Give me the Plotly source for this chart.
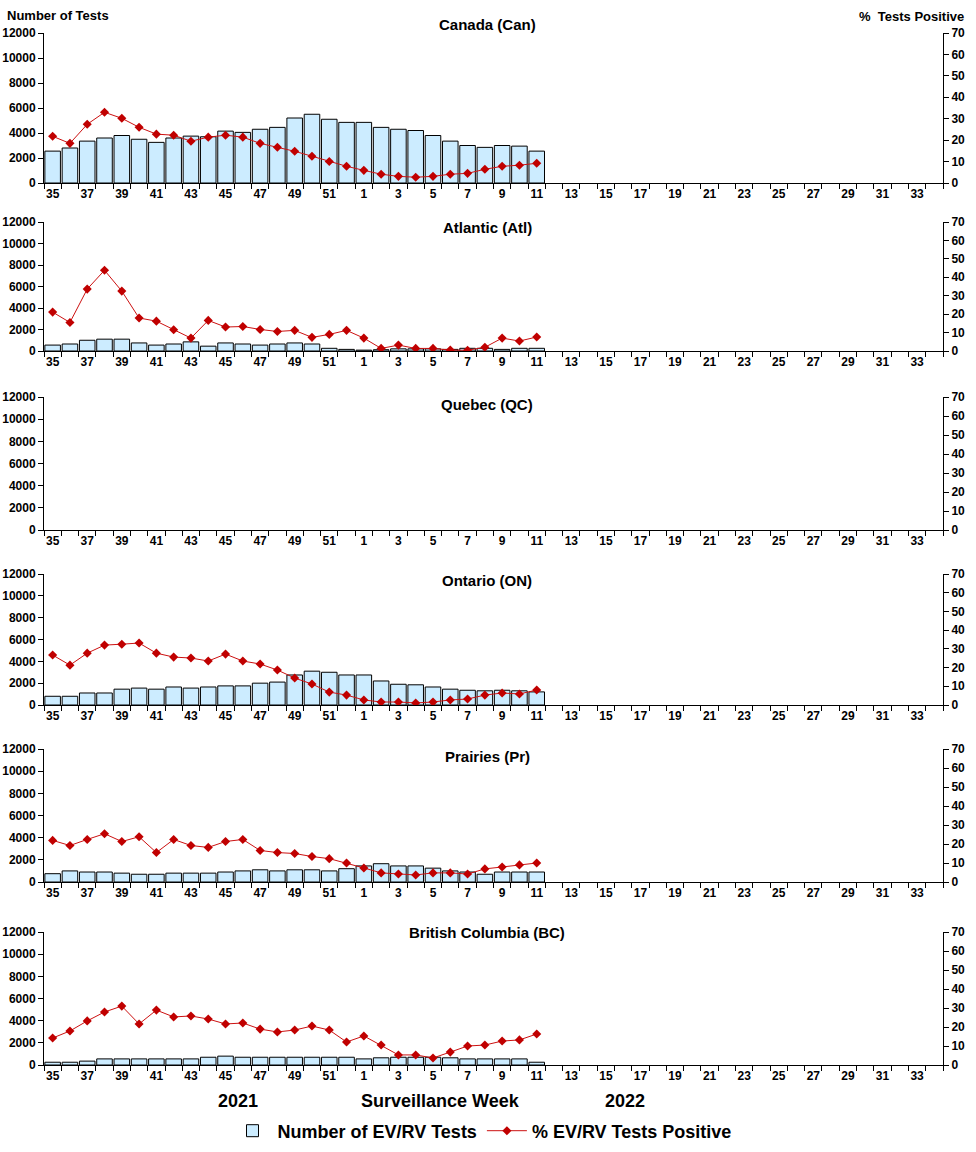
import plotly.graph_objects as go

weeks = [str(w) for w in list(range(35, 53)) + list(range(1, 35))]
week_labels = [w if i % 2 == 0 else "" for i, w in enumerate(weeks)]

regions = ["Canada (Can)", "Atlantic (Atl)", "Quebec (QC)", "Ontario (ON)", "Prairies (Pr)", "British Columbia (BC)"]

can_tests = [2550, 2800, 3350, 3600, 3800, 3500, 3250, 3600, 3750, 3700, 4150, 4050, 4300, 4450, 5200, 5500, 5100, 4850,
             4850, 4450, 4300, 4200, 3800, 3350, 3000, 2850, 3000, 2950, 2550]
can_pct = [21.8, 18.5, 27.4, 33.0, 30.2, 26.0, 22.8, 22.3, 19.5, 21.4, 22.3, 21.4, 18.5, 16.7, 14.8, 12.5, 10.0, 7.8,
           5.9, 4.1, 3.1, 2.7, 3.1, 4.1, 4.5, 6.4, 7.8, 8.3, 9.2]

atl_tests = [550, 650, 1000, 1100, 1100, 750, 550, 650, 850, 450, 750, 650, 550, 650, 750, 650, 250, 150,
             80, 120, 200, 200, 200, 150, 250, 250, 150, 250, 250]
atl_pct = [21.1, 15.5, 33.6, 43.8, 32.5, 17.9, 16.2, 11.5, 7.0, 16.6, 13.0, 13.3, 11.7, 10.6, 11.2, 7.4, 9.0, 11.2,
           7.0, 1.4, 3.2, 1.4, 1.4, 0.5, 0.4, 2.0, 7.0, 5.4, 7.6]

qc_tests = []
qc_pct = []

on_tests = [800, 800, 1100, 1100, 1450, 1550, 1450, 1650, 1550, 1650, 1750, 1750, 2000, 2100, 2750, 3100, 3000, 2750,
            2750, 2200, 1900, 1850, 1650, 1450, 1350, 1300, 1350, 1300, 1200]
on_pct = [26.7, 21.3, 27.7, 32.0, 32.5, 33.1, 27.7, 25.6, 25.1, 23.5, 27.2, 23.5, 21.9, 18.7, 14.4, 11.2, 6.9, 5.3,
          2.7, 1.6, 1.6, 1.1, 1.6, 2.7, 3.2, 5.3, 6.4, 5.9, 8.0]

pr_tests = [750, 1000, 900, 900, 800, 700, 700, 800, 800, 800, 900, 1000, 1100, 1000, 1100, 1100, 1000, 1200,
            1450, 1650, 1450, 1450, 1250, 1000, 900, 700, 900, 900, 900]
pr_pct = [21.9, 19.2, 22.4, 25.4, 21.3, 23.8, 15.5, 22.4, 19.2, 18.2, 21.3, 22.4, 16.6, 15.5, 15.0, 13.4, 12.3, 10.0,
          7.4, 4.8, 4.2, 3.7, 4.8, 4.8, 4.2, 6.9, 7.9, 9.0, 10.0]

bc_tests = [250, 250, 350, 550, 550, 550, 550, 550, 550, 700, 800, 700, 700, 700, 700, 700, 700, 700,
            550, 650, 700, 700, 700, 650, 550, 550, 550, 550, 250]
bc_pct = [14.2, 17.9, 23.2, 27.9, 31.0, 21.6, 28.9, 25.3, 25.8, 24.2, 21.6, 22.1, 18.9, 17.4, 18.4, 20.5, 18.4, 12.1,
          15.3, 10.5, 5.3, 5.3, 3.7, 6.8, 10.0, 10.5, 12.6, 13.2, 16.3]

tests = [can_tests, atl_tests, qc_tests, on_tests, pr_tests, bc_tests]
pcts = [can_pct, atl_pct, qc_pct, on_pct, pr_pct, bc_pct]

left_ticks = [0, 2000, 4000, 6000, 8000, 10000, 12000]
right_ticks = [0, 10, 20, 30, 40, 50, 60, 70]

W, H = 976, 1152
FONT = "Arial, Liberation Sans, sans-serif"


def px_x(p):
    return p / W


def px_y(p):
    return 1 - p / H


# panel vertical extents in window pixels (top, bottom)
panels_px = [(33, 183), (222, 351), (397, 530), (574, 705), (749, 882), (932, 1065)]
title_px = [24, 228, 404, 580, 756, 932]
x_dom = [px_x(44), px_x(943)]

fig = go.Figure()
layout = dict(
    width=W, height=H, margin=dict(l=0, r=0, t=0, b=0, autoexpand=False),
    paper_bgcolor="white", plot_bgcolor="white",
    font=dict(family=FONT, color="black"),
    barmode="group", bargap=0.1,
    showlegend=True,
    legend=dict(orientation="h", x=px_x(482), xanchor="center", y=px_y(1131), yanchor="middle",
                font=dict(size=18, family=FONT, weight="bold"), itemwidth=40, bgcolor="rgba(0,0,0,0)"),
)
annotations = []
n = len(regions)
for i in range(n):
    k = i + 1
    xa = f"x{k}" if k > 1 else "x"
    ya = f"y{k}" if k > 1 else "y"
    ya2 = f"y{n + k}"
    xs = weeks[:len(tests[i])]
    fig.add_trace(go.Bar(x=xs, y=tests[i], xaxis=xa, yaxis=ya, name="Number of EV/RV Tests",
                         marker=dict(color="#CCECFF", line=dict(color="black", width=1)),
                         showlegend=(i == 0), legendgroup="tests"))
    fig.add_trace(go.Scatter(x=weeks[:len(pcts[i])], y=pcts[i], xaxis=xa, yaxis=ya2, mode="lines+markers",
                             name="% EV/RV Tests Positive",
                             line=dict(color="#CC1111", width=1),
                             marker=dict(symbol="diamond", size=7, color="#C00000"),
                             showlegend=(i == 0), legendgroup="pct"))
    top, bot = panels_px[i]
    ydom = [px_y(bot), px_y(top)]
    xkey = "xaxis" if k == 1 else f"xaxis{k}"
    ykey = "yaxis" if k == 1 else f"yaxis{k}"
    layout[xkey] = dict(domain=x_dom, anchor=ya, type="category", categoryorder="array", categoryarray=weeks,
                        range=[-0.5, len(weeks) - 0.5], tickmode="array", tickvals=weeks, ticktext=week_labels,
                        tickson="boundaries", ticks="outside", ticklen=5, tickcolor="black", tickwidth=1,
                        showline=True, linecolor="black", linewidth=1, showgrid=False, zeroline=False,
                        automargin=False,
                        tickfont=dict(size=12, family=FONT, weight="bold"), tickangle=0)
    layout[f"xaxis{n + k}"] = dict(overlaying=xa, anchor=ya, type="linear", range=[-0.5, len(weeks) - 0.5],
                                   tickmode="array", tickvals=[j - 0.5 for j in range(len(weeks) + 1)],
                                   ticks="inside", ticklen=4, tickcolor="black", tickwidth=1, automargin=False,
                                   showticklabels=False, showline=False, showgrid=False, zeroline=False)
    layout[ykey] = dict(domain=ydom, anchor=xa, range=[0, 12000], tickmode="array", tickvals=left_ticks,
                        ticktext=[str(v) for v in left_ticks], automargin=False,
                        ticks="outside", ticklen=5, tickcolor="black", showline=True, linecolor="black",
                        linewidth=1, showgrid=False, zeroline=False,
                        tickfont=dict(size=12, family=FONT, weight="bold"))
    layout[f"yaxis{n + k}"] = dict(overlaying=ya, anchor=xa, side="right", range=[0, 70], tickmode="array",
                                   tickvals=right_ticks, ticktext=[str(v) for v in right_ticks], automargin=False,
                                   ticks="outside", ticklen=5, tickcolor="black",
                                   showline=True, linecolor="black", linewidth=1, showgrid=False, zeroline=False,
                                   tickfont=dict(size=12, family=FONT, weight="bold"))
    annotations.append(dict(text=regions[i], xref="paper", yref="paper", x=px_x(487), y=px_y(title_px[i]),
                            xanchor="center", yanchor="middle", showarrow=False,
                            font=dict(size=15, family=FONT, weight="bold")))

annotations += [
    dict(text="Number of Tests", xref="paper", yref="paper", x=px_x(5), y=px_y(15), xanchor="left",
         yanchor="middle", showarrow=False, font=dict(size=13, family=FONT, weight="bold")),
    dict(text="%  Tests Positive", xref="paper", yref="paper", x=px_x(966), y=px_y(17), xanchor="right",
         yanchor="middle", showarrow=False, font=dict(size=13, family=FONT, weight="bold")),
    dict(text="2021", xref="paper", yref="paper", x=px_x(238), y=px_y(1101), xanchor="center",
         yanchor="middle", showarrow=False, font=dict(size=18, family=FONT, weight="bold")),
    dict(text="Surveillance Week", xref="paper", yref="paper", x=px_x(440), y=px_y(1101), xanchor="center",
         yanchor="middle", showarrow=False, font=dict(size=18, family=FONT, weight="bold")),
    dict(text="2022", xref="paper", yref="paper", x=px_x(625), y=px_y(1101), xanchor="center",
         yanchor="middle", showarrow=False, font=dict(size=18, family=FONT, weight="bold")),
]
layout["annotations"] = annotations
fig.update_layout(**layout)
fig.write_html("out.html", config={"displayModeBar": False},
               post_script="document.body.style.margin='0px';document.body.style.overflow='hidden';")
